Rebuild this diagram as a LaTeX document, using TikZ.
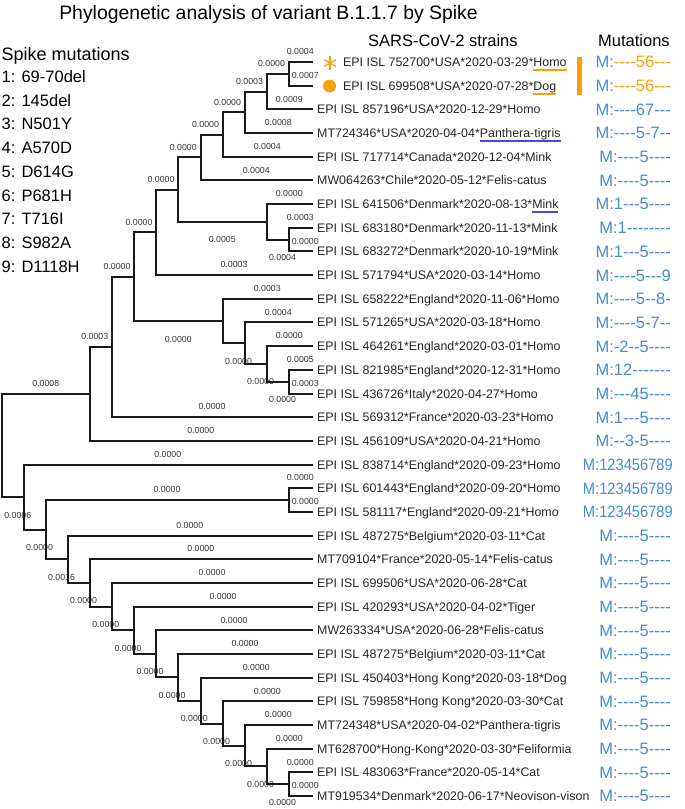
\documentclass[tikz,border=0pt]{standalone}
\usepackage{fontspec}
\setmainfont{Liberation Sans}
\newfontfamily\plainsans{Liberation Sans}
\definecolor{mkorange}{RGB}{250,160,10}
\definecolor{ulblue}{RGB}{70,70,225}
\definecolor{mutblue}{RGB}{70,140,210}
\newcommand\hostul[2]{\setbox0=\hbox{#2}\rlap{\color{#1}\rule[-4.5pt]{\wd0}{1.8pt}}\box0}

\begin{document}
\begin{tikzpicture}[x=1pt,y=-1pt,
  branch/.style={line width=2pt,black!90,line cap=rect},
  leaf/.style={anchor=west,inner xsep=5pt,inner ysep=0pt,text height=9pt,text depth=0pt,font=\fontsize{12.4}{14}\selectfont,text=black!85},
  mut/.style={anchor=east,inner sep=0pt,text height=11.8pt,text depth=0pt,font=\fontsize{16.5}{19}\plainsans,text=mutblue},
  brlen/.style={inner sep=0pt,anchor=base,pos=.75,font=\fontsize{8.8}{10}\selectfont,text=black!80},
  lup/.style={brlen,yshift=7.3pt},
  lupl/.style={lup,xshift=-6pt},
  lupr/.style={lup,xshift=5pt},
  ldn/.style={brlen,yshift=-21pt},
  ldnr/.style={ldn,xshift=5pt},
  heading/.style={anchor=base west,inner sep=0pt,font=\fontsize{16.5}{19}\selectfont}]
  \useasboundingbox (0,0) rectangle (685,809);

  \node[anchor=base,inner sep=0pt,font=\fontsize{19.4}{22}\selectfont] (title) at (268.5,19.5) {Phylogenetic analysis of variant B.1.1.7 by Spike};
  \node[heading,font=\fontsize{18}{21}\selectfont] (keyhead) at (1.5,60.7) {Spike mutations};
  \foreach \i/\t in {1/69-70del,2/145del,3/N501Y,4/A570D,5/D614G,6/P681H,7/T716I,8/S982A,9/D1118H}
    \node[heading] (k\i) at (1.5,{82.6+(\i-1)*23.68}) {\i: \t};
  \node[heading] (strainhead) at (368,46.7) {SARS-CoV-2 strains};
  \node[heading] (muthead) at (598,46.7) {Mutations};

  \foreach \i/\t in {1/{\kern26pt EPI ISL 752700*USA*2020-03-29*\hostul{mkorange}{Homo}},
    2/{\kern26pt EPI ISL 699508*USA*2020-07-28*\hostul{mkorange}{Dog}},
    3/EPI ISL 857196*USA*2020-12-29*Homo,
    4/{MT724346*USA*2020-04-04*\hostul{ulblue}{Panthera-tigris}},
    5/EPI ISL 717714*Canada*2020-12-04*Mink,
    6/MW064263*Chile*2020-05-12*Felis-catus,
    7/{EPI ISL 641506*Denmark*2020-08-13*\hostul{ulblue}{Mink}},
    8/EPI ISL 683180*Denmark*2020-11-13*Mink,
    9/EPI ISL 683272*Denmark*2020-10-19*Mink,
    10/EPI ISL 571794*USA*2020-03-14*Homo,
    11/EPI ISL 658222*England*2020-11-06*Homo,
    12/EPI ISL 571265*USA*2020-03-18*Homo,
    13/EPI ISL 464261*England*2020-03-01*Homo,
    14/EPI ISL 821985*England*2020-12-31*Homo,
    15/EPI ISL 436726*Italy*2020-04-27*Homo,
    16/EPI ISL 569312*France*2020-03-23*Homo,
    17/EPI ISL 456109*USA*2020-04-21*Homo,
    18/EPI ISL 838714*England*2020-09-23*Homo,
    19/EPI ISL 601443*England*2020-09-20*Homo,
    20/EPI ISL 581117*England*2020-09-21*Homo,
    21/EPI ISL 487275*Belgium*2020-03-11*Cat,
    22/MT709104*France*2020-05-14*Felis-catus,
    23/EPI ISL 699506*USA*2020-06-28*Cat,
    24/EPI ISL 420293*USA*2020-04-02*Tiger,
    25/MW263334*USA*2020-06-28*Felis-catus,
    26/EPI ISL 487275*Belgium*2020-03-11*Cat,
    27/EPI ISL 450403*Hong Kong*2020-03-18*Dog,
    28/EPI ISL 759858*Hong Kong*2020-03-30*Cat,
    29/MT724348*USA*2020-04-02*Panthera-tigris,
    30/MT628700*Hong-Kong*2020-03-30*Feliformia,
    31/EPI ISL 483063*France*2020-05-14*Cat,
    32/MT919534*Denmark*2020-06-17*Neovison-vison}
    \node[leaf] (l\i) at (312,{62+(\i-1)*23.68}) {\t};

  \foreach \i/\m in {1/{\color{mkorange}----56---},2/{\color{mkorange}----56---},3/----67---,4/----5-7--,
    5/----5----,6/----5----,7/1---5----,8/1--------,9/1---5----,10/----5---9,11/----5--8-,
    12/----5-7--,13/-2--5----,14/12-------,15/---45----,16/1---5----,17/--3-5----,
    21/----5----,22/----5----,23/----5----,24/----5----,25/----5----,26/----5----,
    27/----5----,28/----5----,29/----5----,30/----5----,31/----5----,32/----5----}
    \node[mut] (m\i) at (671,{62+(\i-1)*23.68}) {M:\m};
  \foreach \i in {18,19,20}
    \node[mut] (m\i) at (673,{62+(\i-1)*23.68}) {\scalebox{.89}[1]{M:123456789}};

  \coordinate (iA) at (288.5,73.84);
  \coordinate (iB) at (266.5,91.60);
  \coordinate (iC) at (244.5,112.32);
  \coordinate (iD) at (222.5,134.52);
  \coordinate (iE) at (200.5,157.46);
  \coordinate (iF) at (178,189.65);
  \coordinate (iG) at (266.5,221.84);
  \coordinate (iH) at (288.5,239.60);
  \coordinate (iI) at (156,232.39);
  \coordinate (iJ) at (134,276.70);
  \coordinate (iK) at (222.5,321.00);
  \coordinate (iL) at (244.5,343.20);
  \coordinate (iM) at (266.5,363.92);
  \coordinate (iN) at (288.5,381.68);
  \coordinate (iP) at (112,346.95);
  \coordinate (iQ) at (89.5,393.92);
  \coordinate (iR) at (2,445.52);
  \coordinate (iS) at (23.5,497.12);
  \coordinate (iT) at (45.5,529.68);
  \coordinate (iU) at (288.5,500.08);
  \coordinate (iV) at (67.5,559.27);
  \coordinate (iW) at (89.5,582.94);
  \coordinate (iX) at (112,606.60);
  \coordinate (iY) at (134,630.23);
  \coordinate (iZa) at (156,653.82);
  \coordinate (iZb) at (178,677.31);
  \coordinate (iZc) at (200.5,700.62);
  \coordinate (iZd) at (222.5,723.56);
  \coordinate (iZe) at (244.5,745.76);
  \coordinate (iZf) at (266.5,766.48);
  \coordinate (iZg) at (288.5,784.24);

  \foreach \p/\c/\v/\s in {iB/iA/0.0000/lupl,iA/l1.west/0.0004/lup,iA/l2.west/0.0007/lupr,
    iC/iB/0.0003/lupl,iB/l3.west/0.0009/lup,iD/iC/0.0000/lupl,iC/l4.west/0.0008/lup,
    iE/iD/0.0000/lupl,iD/l5.west/0.0004/lup,iF/iE/0.0000/lupl,iE/l6.west/0.0004/lup,
    iF/iG/0.0005/ldn,iG/l7.west/0.0000/lup,iG/iH/0.0004/ldnr,iH/l8.west/0.0003/lup,
    iH/l9.west/0.0000/lupr,iI/iF/0.0000/lupl,iI/l10.west/0.0003/lup,iJ/iI/0.0000/lupl,
    iJ/iK/0.0000/ldn,iK/l11.west/0.0003/lup,iK/iL/0.0000/ldnr,iL/l12.west/0.0004/lup,
    iL/iM/0.0000/ldnr,iM/l13.west/0.0000/lup,iM/iN/0.0000/ldnr,iN/l14.west/0.0005/lup,
    iN/l15.west/0.0003/lupr,iP/iJ/0.0000/lupl,iP/l16.west/0.0000/lup,iQ/iP/0.0003/lupl,
    iQ/l17.west/0.0000/lup,iR/iQ/0.0008/lup,iR/iS/0.0006/ldnr,iS/l18.west/0.0000/lup,
    iS/iT/0.0000/ldnr,iT/iU/0.0000/lup,iU/l19.west/0.0000/lup,iU/l20.west/0.0000/lupr,
    iT/iV/0.0016/ldnr,iV/l21.west/0.0000/lup,iV/iW/0.0000/ldnr,iW/l22.west/0.0000/lup,
    iW/iX/0.0000/ldnr,iX/l23.west/0.0000/lup,iX/iY/0.0000/ldnr,iY/l24.west/0.0000/lup,
    iY/iZa/0.0000/ldnr,iZa/l25.west/0.0000/lup,iZa/iZb/0.0000/ldnr,iZb/l26.west/0.0000/lup,
    iZb/iZc/0.0000/ldnr,iZc/l27.west/0.0000/lup,iZc/iZd/0.0000/ldnr,iZd/l28.west/0.0000/lup,
    iZd/iZe/0.0000/ldnr,iZe/l29.west/0.0000/lup,iZe/iZf/0.0000/ldnr,iZf/l30.west/0.0000/lup,
    iZf/iZg/0.0000/ldnr,iZg/l31.west/0.0000/lup,iZg/l32.west/0.0000/lupr}
    \draw[branch] (\p) |- (\c) node[\s] {\v};

  \foreach \a in {90,30,-30}
    \draw[mkorange,line width=1.3pt] (330,63) ++(\a:7pt) -- ++(\a+180:14pt);
  \fill[mkorange] (329.5,86) circle (6.5pt);
  \fill[mkorange] (577,57) rectangle (582,95);
\end{tikzpicture}
\end{document}
